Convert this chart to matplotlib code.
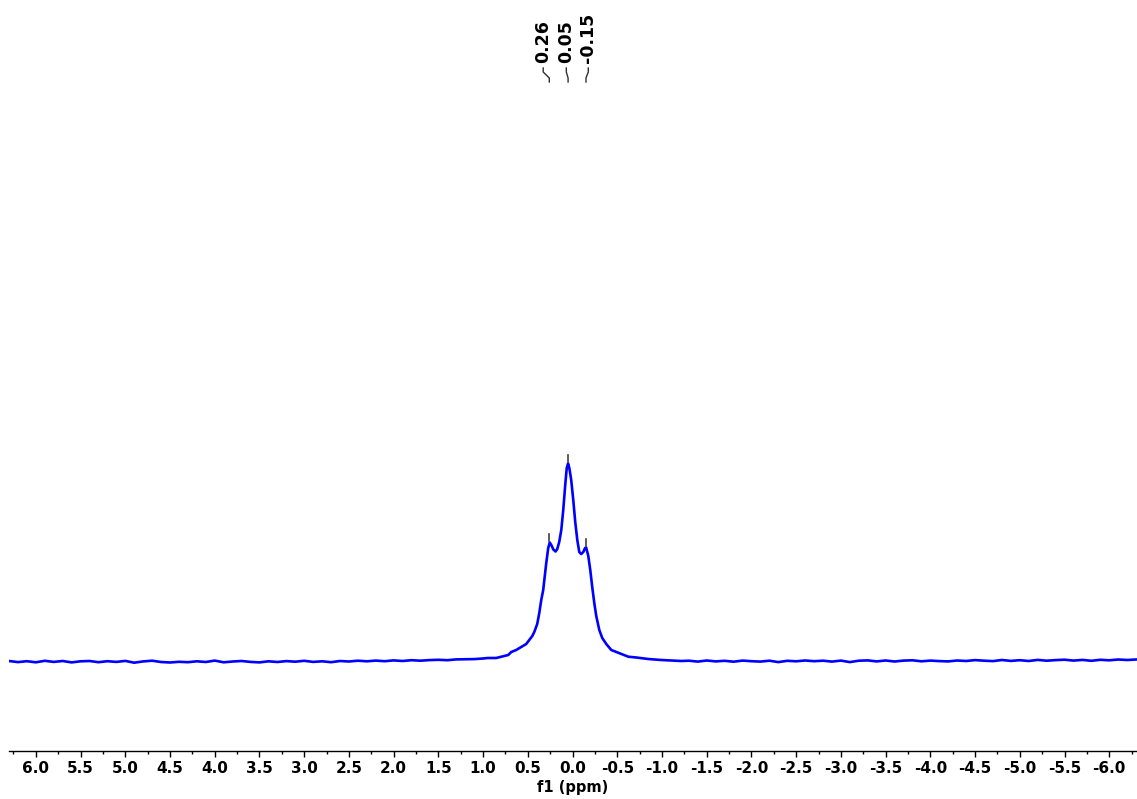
import numpy as np
import matplotlib
matplotlib.use('Agg')
import matplotlib.pyplot as plt
from matplotlib.ticker import FixedLocator, FuncFormatter
from matplotlib.transforms import blended_transform_factory

plt.rcParams['font.family'] = 'DejaVu Sans'
plt.rcParams['axes.unicode_minus'] = False

# Spectrum (ppm, intensity in arbitrary units, baseline ~ 0)
left_ppm = [6.3, 6.2, 6.1, 6.0, 5.9, 5.8, 5.7, 5.6, 5.5, 5.4, 5.3, 5.2, 5.1, 5.0,
            4.9, 4.8, 4.7, 4.6, 4.5, 4.4, 4.3, 4.2, 4.1, 4.0, 3.9, 3.8, 3.7, 3.6,
            3.5, 3.4, 3.3, 3.2, 3.1, 3.0, 2.9, 2.8, 2.7, 2.6, 2.5, 2.4, 2.3, 2.2,
            2.1, 2.0, 1.9, 1.8, 1.7, 1.6, 1.5, 1.4, 1.3, 1.2]
left_int = [0.5, -0.6, 0.3, -0.8, 0.7, -0.4, 0.5, -0.9, 0.2, 0.5, -0.7, 0.3, -0.4, 0.6,
            -1.2, 0.1, 0.8, -0.5, -1.0, -0.3, -0.7, 0.2, -0.5, 0.9, -0.8, 0.0, 0.5, -0.4,
            -0.9, 0.2, -0.5, 0.4, -0.2, 0.7, -0.4, 0.2, -0.7, 0.5, 0.0, 0.8, 0.2, 0.9,
            0.3, 1.1, 0.5, 1.3, 0.8, 1.4, 1.7, 1.3, 2.1, 2.2]

peak_ppm = [1.1, 1.0, 0.95, 0.853, 0.764, 0.719, 0.685, 0.63, 0.574, 0.518, 0.484,
            0.45, 0.428, 0.395, 0.372, 0.35, 0.328, 0.305, 0.294, 0.272, 0.255,
            0.235, 0.215, 0.19, 0.171, 0.149, 0.126, 0.104, 0.082, 0.065, 0.05,
            0.035, 0.015, -0.008, -0.03, -0.053, -0.075, -0.097, -0.12, -0.14,
            -0.152, -0.176, -0.198, -0.22, -0.243, -0.265, -0.299, -0.332, -0.377,
            -0.433, -0.489, -0.545, -0.623, -0.712, -0.846, -0.992, -1.215]
peak_int = [2.4, 3.0, 3.5, 3.5, 5.5, 6.5, 9.5, 11.5, 14.5, 17.5, 21.5,
            25.5, 29.5, 37.5, 48.5, 61.5, 71.5, 89.5, 98.5, 113.5, 119.0,
            116.0, 112.0, 110.0, 112.5, 119.5, 131.5, 151.5, 176.5, 193.5, 198.0,
            193.0, 181.5, 161.5, 139.5, 121.5, 109.5, 107.5, 109.5, 113.5,
            114.0, 105.5, 91.5, 74.5, 58.5, 45.5, 31.5, 23.5, 17.5,
            11.5, 9.5, 7.5, 4.8, 4.0, 2.5, 1.5, 0.5]

right_ppm = [-1.3, -1.4, -1.5, -1.6, -1.7, -1.8, -1.9, -2.0, -2.1, -2.2, -2.3, -2.4,
             -2.5, -2.6, -2.7, -2.8, -2.9, -3.0, -3.1, -3.2, -3.3, -3.4, -3.5, -3.6,
             -3.7, -3.8, -3.9, -4.0, -4.1, -4.2, -4.3, -4.4, -4.5, -4.6, -4.7, -4.8,
             -4.9, -5.0, -5.1, -5.2, -5.3, -5.4, -5.5, -5.6, -5.7, -5.8, -5.9, -6.0,
             -6.1, -6.2, -6.3]
right_int = [0.8, -0.1, 1.0, 0.1, 0.7, -0.2, 0.9, 0.3, -0.1, 0.8, -0.6, 0.7,
             0.2, 1.0, 0.3, 0.8, -0.1, 0.9, -0.6, 0.8, 1.1, 0.1, 1.0, 0.0,
             0.9, 1.2, 0.2, 0.9, 0.4, 0.1, 1.0, 0.5, 1.4, 0.8, 0.4, 1.5,
             0.6, 1.3, 0.5, 1.6, 0.8, 1.4, 1.8, 0.9, 1.6, 0.7, 1.7, 1.2,
             2.0, 1.5, 2.0]

# picked peaks
picks = [0.26, 0.05, -0.15]
pick_heights = [119.0, 198.0, 114.0]
pick_labels = ['0.26', '0.05', '-0.15']
label_ppm = [0.328, 0.07, -0.176]

ppm = np.array(left_ppm + peak_ppm + right_ppm)
intensity = np.array(left_int + peak_int + right_int)

fig = plt.figure(figsize=(11.37, 7.99), dpi=100)
W, H = 1137, 799
ax = fig.add_axes([9 / W, (H - 751) / H, (W - 9) / W, (751 - 100) / H])

ax.plot(ppm, intensity, color='#0000ff', lw=1.9, solid_joinstyle='round')

# small tick marks over picked peaks
for p, h in zip(picks, pick_heights):
    ax.plot([p, p], [h + 2, h + 9], color='#404040', lw=1.2)

ax.set_xlim(6.3, -6.31)
ax.set_ylim(-89.5, 561.5)

for s in ['top', 'left', 'right']:
    ax.spines[s].set_visible(False)
ax.spines['bottom'].set_linewidth(1.0)
ax.set_yticks([])

major = [round(v, 1) + 0.0 for v in np.arange(-6.0, 6.01, 0.5)]
minor = [round(v, 2) for v in np.arange(-6.25, 6.26, 0.5)]
ax.xaxis.set_major_locator(FixedLocator(major))
ax.xaxis.set_minor_locator(FixedLocator(minor))
ax.xaxis.set_major_formatter(FuncFormatter(lambda v, pos: f"{v + 0.0:.1f}"))
ax.tick_params(axis='x', which='major', length=4, width=1.0, pad=3.5,
               labelsize=11, direction='out')
ax.tick_params(axis='x', which='minor', length=2.3, width=1.0, direction='out')
for lab in ax.get_xticklabels():
    lab.set_fontweight('bold')
ax.set_xlabel('f1 (ppm)', fontsize=10.5, fontweight='bold', labelpad=2.5)

# peak labels and connectors at the top
tr = blended_transform_factory(ax.transData, fig.transFigure)
for p, lp, txt in zip(picks, label_ppm, pick_labels):
    ax.text(lp, 1 - 63 / H, txt, transform=tr, rotation=90, ha='center',
            va='bottom', fontsize=12.5, fontweight='bold', clip_on=False)
    ys = [1 - 68 / H, 1 - 72 / H, 1 - 78 / H, 1 - 82 / H]
    xs = [lp, lp, p, p]
    ax.plot(xs, ys, transform=tr, color='#303030', lw=1.0, clip_on=False)

fig.savefig('out.png', dpi=100)
